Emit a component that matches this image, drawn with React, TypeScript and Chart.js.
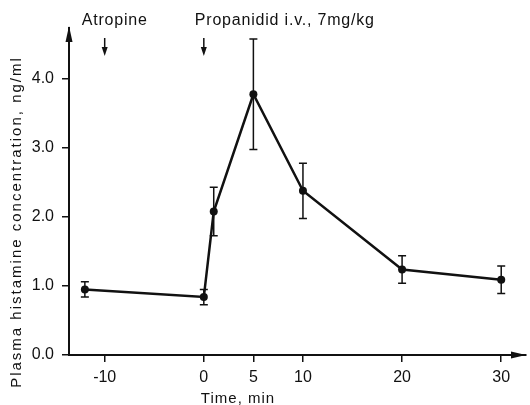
import React, { useEffect, useRef } from "react";
import { Chart, registerables } from "chart.js";

Chart.register(...registerables);

// ---- data ----
const times = [-12, 0, 1, 5, 10, 20, 30];
const means = [0.95, 0.84, 2.08, 3.78, 2.38, 1.24, 1.09];
const errors = [0.11, 0.11, 0.35, 0.8, 0.4, 0.2, 0.2];
const xTickValues = [-10, 0, 5, 10, 20, 30];
const yTickValues = [0, 1, 2, 3, 4];
const eventTimes = [-10, 0];
const eventLabels = ["Atropine", "Propanidid i.v., 7mg/kg"];
const xTitle = "Time, min";
const yTitle = "Plasma histamine concentration, ng/ml";

const FONT = "'Liberation Sans', Arial, sans-serif";
const INK = "#111";

const overlayPlugin = {
  id: "overlay",
  afterDatasetsDraw(chart: any) {
    const ctx = chart.ctx as CanvasRenderingContext2D;
    const xs = chart.scales.x;
    const ys = chart.scales.y;
    const area = chart.chartArea;
    ctx.save();
    ctx.strokeStyle = INK;
    ctx.fillStyle = INK;

    // error bars
    ctx.lineWidth = 1.5;
    times.forEach((t, i) => {
      const px = xs.getPixelForValue(t);
      const top = ys.getPixelForValue(means[i] + errors[i]);
      const bot = ys.getPixelForValue(means[i] - errors[i]);
      ctx.beginPath();
      ctx.moveTo(px, top);
      ctx.lineTo(px, bot);
      ctx.moveTo(px - 4, top);
      ctx.lineTo(px + 4, top);
      ctx.moveTo(px - 4, bot);
      ctx.lineTo(px + 4, bot);
      ctx.stroke();
    });

    // axis arrows
    const ax = area.left;
    ctx.beginPath();
    ctx.moveTo(ax, area.top - 2);
    ctx.lineTo(ax - 3.5, area.top + 14);
    ctx.lineTo(ax + 3.5, area.top + 14);
    ctx.closePath();
    ctx.fill();
    const ay = area.bottom;
    ctx.beginPath();
    ctx.moveTo(area.right, ay);
    ctx.lineTo(area.right - 15, ay - 3.5);
    ctx.lineTo(area.right - 15, ay + 3.5);
    ctx.closePath();
    ctx.fill();

    // event arrows and labels
    const labelOffsets = [-23, -9];
    ctx.font = `16px ${FONT}`;
    (ctx as any).letterSpacing = "0.8px";
    ctx.textAlign = "left";
    ctx.textBaseline = "alphabetic";
    eventTimes.forEach((t, i) => {
      const px = xs.getPixelForValue(t);
      ctx.lineWidth = 1.5;
      ctx.beginPath();
      ctx.moveTo(px, 38);
      ctx.lineTo(px, 49);
      ctx.stroke();
      ctx.beginPath();
      ctx.moveTo(px, 56);
      ctx.lineTo(px - 3, 47);
      ctx.lineTo(px + 3, 47);
      ctx.closePath();
      ctx.fill();
      ctx.fillText(eventLabels[i], px + labelOffsets[i], 25);
    });

    // axis titles
    ctx.font = `15px ${FONT}`;
    (ctx as any).letterSpacing = "1px";
    ctx.textAlign = "center";
    ctx.fillText(xTitle, 238, 403);

    (ctx as any).letterSpacing = "2px";
    ctx.translate(17, 222);
    ctx.rotate(-Math.PI / 2);
    ctx.textBaseline = "middle";
    ctx.fillText(yTitle, 0, 0);
    ctx.restore();
  },
};

export default function App() {
  const ref = useRef<HTMLCanvasElement | null>(null);
  useEffect(() => {
    if (!ref.current) return;
    const chart = new Chart(ref.current, {
      type: "line",
      data: {
        datasets: [
          {
            data: times.map((t, i) => ({ x: t, y: means[i] })),
            borderColor: INK,
            borderWidth: 2.5,
            pointRadius: 4,
            pointBackgroundColor: INK,
            pointBorderWidth: 0,
            tension: 0,
            clip: false as any,
          },
        ],
      },
      options: {
        animation: false,
        responsive: false,
        devicePixelRatio: 1,
        layout: { padding: { top: 28, right: 0, left: 0, bottom: 0 } },
        plugins: { legend: { display: false }, tooltip: { enabled: false } },
        scales: {
          x: {
            type: "linear",
            min: -13.6,
            max: 32.5,
            afterBuildTicks: (s: any) => {
              s.ticks = xTickValues.map((v) => ({ value: v }));
            },
            afterFit: (s: any) => {
              s.height = 50;
            },
            ticks: {
              color: INK,
              font: { family: FONT, size: 16 },
              padding: 6,
              maxRotation: 0,
              callback: (v: any) => String(v),
            },
            grid: {
              drawOnChartArea: false,
              drawTicks: true,
              tickLength: 7,
              color: INK,
              lineWidth: 1.5,
            },
            border: { display: true, color: INK, width: 2 },
          },
          y: {
            type: "linear",
            min: 0,
            max: 4.74,
            afterBuildTicks: (s: any) => {
              s.ticks = yTickValues.map((v) => ({ value: v }));
            },
            afterFit: (s: any) => {
              s.width = 69;
            },
            ticks: {
              color: INK,
              font: { family: FONT, size: 16 },
              padding: 8,
              callback: (v: any) => Number(v).toFixed(1),
            },
            grid: {
              drawOnChartArea: false,
              drawTicks: true,
              tickLength: 7,
              color: INK,
              lineWidth: 1.5,
            },
            border: { display: true, color: INK, width: 2 },
          },
        },
      },
      plugins: [overlayPlugin],
    });
    return () => chart.destroy();
  }, []);
  return (
    <div
      style={{
        position: "fixed",
        left: 0,
        top: 0,
        width: 530,
        height: 405,
        background: "#fff",
      }}
    >
      <canvas ref={ref} width={530} height={405} style={{ display: "block" }} />
    </div>
  );
}
